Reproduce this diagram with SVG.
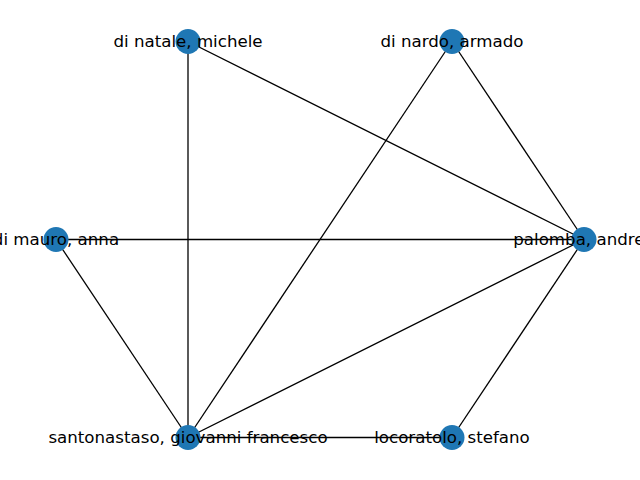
<svg xmlns="http://www.w3.org/2000/svg" width="640" height="480" viewBox="0 0 640 480">
<style>
.e{stroke:#000;stroke-width:1.3;fill:none}
.n circle{fill:#1f77b4}
.n text{font-family:"DejaVu Sans",sans-serif;font-size:16.67px;fill:#000;text-anchor:middle;dominant-baseline:central}
</style>
<rect width="640" height="480" fill="#fff"/>
<g id="edges">
<line class="e" x1="188" y1="41.5" x2="584" y2="239.5"/>
<line class="e" x1="188" y1="41.5" x2="188" y2="437.5"/>
<line class="e" x1="452" y1="41.5" x2="188" y2="437.5"/>
<line class="e" x1="452" y1="41.5" x2="584" y2="239.5"/>
<line class="e" x1="56" y1="239.5" x2="584" y2="239.5"/>
<line class="e" x1="56" y1="239.5" x2="188" y2="437.5"/>
<line class="e" x1="188" y1="437.5" x2="584" y2="239.5"/>
<line class="e" x1="188" y1="437.5" x2="452" y2="437.5"/>
<line class="e" x1="584" y1="239.5" x2="452" y2="437.5"/>
</g>
<g id="n-dinatale" class="n"><circle cx="188" cy="41.5" r="12.5"/><text x="188" y="41.5">di natale, michele</text></g>
<g id="n-dinardo" class="n"><circle cx="452" cy="41.5" r="12.5"/><text x="452" y="41.5">di nardo, armado</text></g>
<g id="n-dimauro" class="n"><circle cx="56" cy="239.5" r="12.5"/><text x="56" y="239.5">di mauro, anna</text></g>
<g id="n-palomba" class="n"><circle cx="584" cy="239.5" r="12.5"/><text x="584" y="239.5">palomba, andrea</text></g>
<g id="n-santonastaso" class="n"><circle cx="188" cy="437.5" r="12.5"/><text x="188" y="437.5">santonastaso, giovanni francesco</text></g>
<g id="n-locoratolo" class="n"><circle cx="452" cy="437.5" r="12.5"/><text x="452" y="437.5">locoratolo, stefano</text></g>
</svg>
